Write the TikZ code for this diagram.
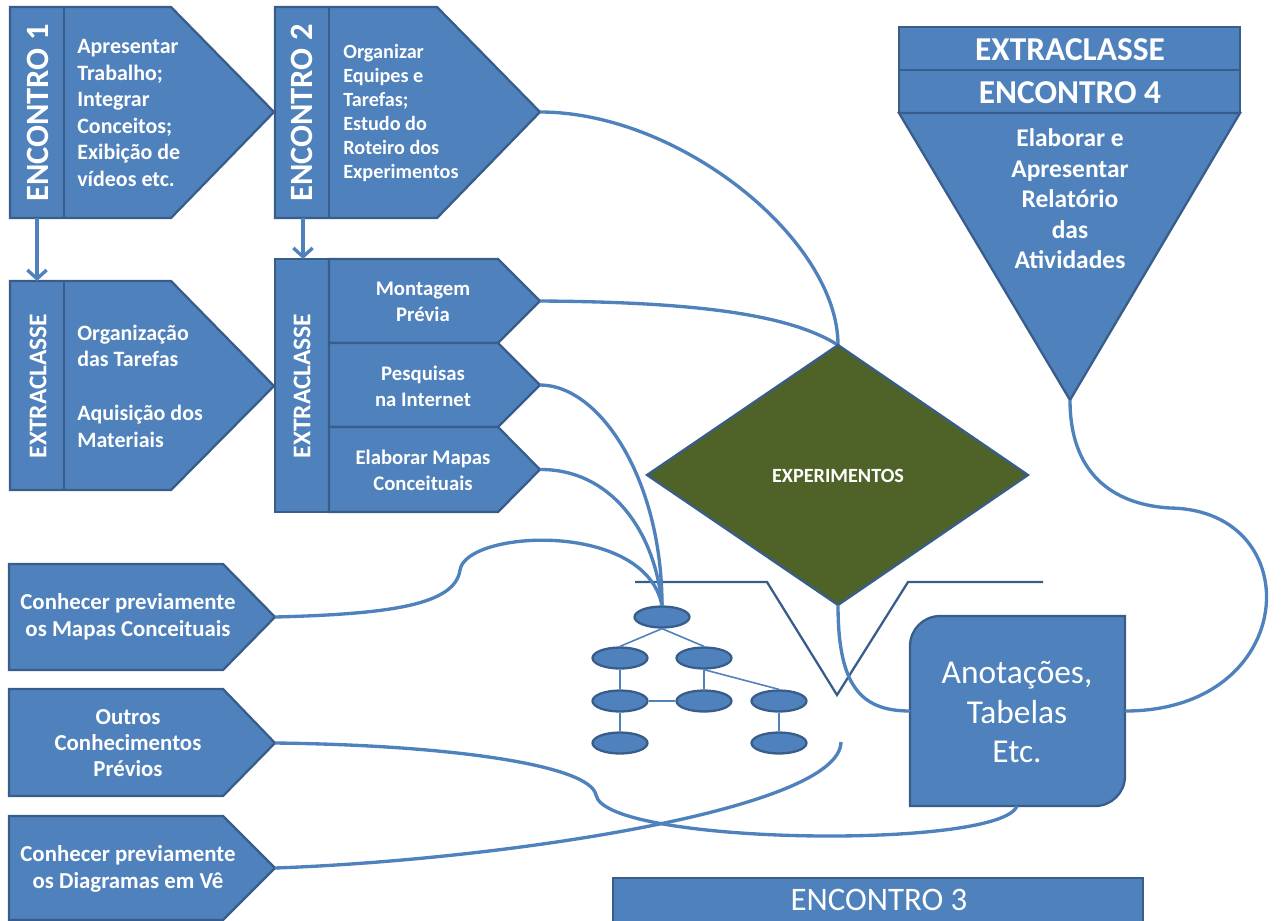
\documentclass[tikz,border=0pt]{standalone}
\usepackage{fontspec}
\setmainfont{Carlito}
\usetikzlibrary{shapes.geometric,arrows.meta}
\definecolor{cF}{HTML}{4F81BD}
\definecolor{cD}{HTML}{385D8A}
\definecolor{cG}{HTML}{4F6228}
\newcommand\fsz[2]{\fontsize{#1}{#2}\selectfont}
\begin{document}
\begin{tikzpicture}[x=0.02cm,y=-0.02cm,
  shp/.style={fill=cF,draw=cD,line width=1.3pt},
  lbl/.style={text=white,inner sep=0pt},
  conn/.style={draw=cF,line width=1.9pt},
  arr/.style={draw=cF,line width=1.9pt,-{Straight Barb[length=5pt,width=11pt]}},
  vline/.style={draw=cD,line width=1.3pt},
  ell/.style={ellipse,fill=cF,draw=cD,line width=1.3pt,minimum width=1.1cm,minimum height=0.42cm,inner sep=0pt},
  mapln/.style={draw=cF,line width=0.9pt}]
\useasboundingbox (0,0) rectangle (1283,920);
\clip (0,0) rectangle (1283,920);

% ---------- connection points
\coordinate (e1bot) at (37,218);
\coordinate (x1top) at (37,281);
\coordinate (e2bot) at (303,218);
\coordinate (x2top) at (303,259);
\coordinate (e2tip) at (540,112);
\coordinate (mtip) at (540,301);
\coordinate (ptip) at (540,385);
\coordinate (etip) at (540,469.5);
\coordinate (dtop) at (838,345);
\coordinate (dbot) at (838,605);
\coordinate (p1tip) at (275,617);
\coordinate (p2tip) at (275,743);
\coordinate (p3tip) at (275,868);
\coordinate (tritip) at (1070,400);
\coordinate (anW) at (910,711);
\coordinate (anE) at (1125,711);
\coordinate (anS) at (1017,806);
\coordinate (vend) at (841,742);

% ---------- ENCONTRO 1
\draw[shp] (10,7) -- (171,7) -- (274,112) -- (171,218) -- (10,218) -- cycle;
\draw[shp] (64,7) -- (64,218);
\node[lbl,rotate=90,font=\bfseries\fsz{18.5}{20}] (e1lab) at (38,113) {ENCONTRO 1};
\node[lbl,anchor=west,align=left,font=\bfseries\fsz{12.5}{15.1}] (e1txt) at (77,113)
  {Apresentar\\Trabalho;\\Integrar\\Conceitos;\\Exibição de\\vídeos etc.};

% ---------- ENCONTRO 2
\draw[shp] (275,7) -- (437,7) -- (540,112) -- (437,218) -- (275,218) -- cycle;
\draw[shp] (329,7) -- (329,218);
\node[lbl,rotate=90,font=\bfseries\fsz{18.5}{20}] (e2lab) at (302,113) {ENCONTRO 2};
\node[lbl,anchor=west,align=left,font=\bfseries\fsz{11.5}{13.6}] (e2txt) at (343,113)
  {Organizar\\Equipes e\\Tarefas;\\Estudo do\\Roteiro dos\\Experimentos};

% ---------- EXTRACLASSE 1
\draw[shp] (10,281) -- (171,281) -- (274,386) -- (171,490) -- (10,490) -- cycle;
\draw[shp] (64,281) -- (64,490);
\node[lbl,rotate=90,font=\bfseries\fsz{14.5}{16}] (x1lab) at (38,386) {EXTRACLASSE};
\node[lbl,anchor=west,align=left,font=\bfseries\fsz{12.5}{15.2}] (x1txt) at (77,386)
  {Organização\\das Tarefas\\[15.2pt]Aquisição dos\\Materiais};

% ---------- EXTRACLASSE 2
\draw[shp] (275,259) -- (329,259) -- (329,512) -- (275,512) -- cycle;
\draw[shp] (329,259) -- (498,259) -- (540,301) -- (498,343) -- (329,343) -- cycle;
\draw[shp] (329,343) -- (498,343) -- (540,385) -- (498,427) -- (329,427) -- cycle;
\draw[shp] (329,427) -- (498,427) -- (540,469.5) -- (498,512) -- (329,512) -- cycle;
\node[lbl,rotate=90,font=\bfseries\fsz{14.5}{16}] (x2lab) at (302,386) {EXTRACLASSE};
\node[lbl,align=center,font=\bfseries\fsz{11.8}{14.7}] (mtxt) at (423,302) {Montagem\\Prévia};
\node[lbl,align=center,font=\bfseries\fsz{11.8}{14.7}] (ptxt) at (423,386) {Pesquisas\\na Internet};
\node[lbl,align=center,font=\bfseries\fsz{11.8}{14.7}] (etxt) at (423,470) {Elaborar Mapas\\Conceituais};

% ---------- arrows down
\draw[arr] (e1bot) -- (x1top);
\draw[arr] (e2bot) -- (x2top);

% ---------- bottom-left pentagons
\draw[shp] (9,564) -- (223,564) -- (275,617) -- (223,670) -- (9,670) -- cycle;
\node[lbl,align=center,font=\bfseries\fsz{13}{15.3}] (p1txt) at (128,617)
  {Conhecer previamente\\os Mapas Conceituais};
\draw[shp] (9,689) -- (223,689) -- (275,743) -- (223,796) -- (9,796) -- cycle;
\node[lbl,align=center,font=\bfseries\fsz{13}{15}] (p2txt) at (128,743)
  {Outros\\Conhecimentos\\Prévios};
\draw[shp] (9,816) -- (223,816) -- (275,868) -- (223,920) -- (9,920) -- cycle;
\node[lbl,align=center,font=\bfseries\fsz{13}{15.3}] (p3txt) at (128,869)
  {Conhecer previamente\\os Diagramas em Vê};

% ---------- EXTRACLASSE / ENCONTRO 4 triangle
\draw[shp] (899,27) -- (1240,27) -- (1240,70) -- (899,70) -- cycle;
\draw[shp] (899,70) -- (1240,70) -- (1240,113) -- (899,113) -- cycle;
\draw[shp] (899,113) -- (1240,113) -- (1070,400) -- cycle;
\node[lbl,font=\bfseries\fsz{19}{22}] (r1txt) at (1070,50) {EXTRACLASSE};
\node[lbl,font=\bfseries\fsz{19}{22}] (r2txt) at (1070,93) {ENCONTRO 4};
\node[lbl,align=center,font=\bfseries\fsz{14.5}{17.4}] (tritxt) at (1070,199)
  {Elaborar e\\Apresentar\\Relatório\\das\\Atividades};

% ---------- connectors (behind diamond)
\draw[conn] (e2tip) .. controls (680,112) and (838,240) .. (dtop);
\draw[conn] (mtip) .. controls (700,302) and (790,315) .. (dtop);

% ---------- diamond
\draw[shp,fill=cG] (838,345) -- (1028,475) -- (838,605) -- (647,475) -- cycle;
\node[lbl,font=\bfseries\fsz{11.5}{13}] (dtxt) at (838,476) {EXPERIMENTOS};

% ---------- V diagram
\draw[vline] (635,582) -- (767,582) -- (837,695) -- (908,582) -- (1043,582);

% ---------- concept map
\node[ell] (a) at (662,617) {};
\node[ell] (b) at (620,658) {};
\node[ell] (c) at (704,658) {};
\node[ell] (d) at (620,701) {};
\node[ell] (e) at (704,701) {};
\node[ell] (f) at (779,701) {};
\node[ell] (g) at (620,743) {};
\node[ell] (h) at (779,743) {};
\draw[mapln] (a.south) -- (b.north);
\draw[mapln] (a.south) -- (c.north);
\draw[mapln] (b.south) -- (d.north);
\draw[mapln] (c.south) -- (e.north);
\draw[mapln] (d.east) -- (e.west);
\draw[mapln] (c.south) -- (f.north);
\draw[mapln] (d.south) -- (g.north);
\draw[mapln] (f.south) -- (h.north);

% ---------- Anotacoes box
\node[minimum width=4.3cm,minimum height=3.8cm,inner sep=0pt] (anot) at (1017.5,711) {};
\draw[shp] (910,806) -- (910,646) .. controls (910,629.4) and (923.4,616) .. (940,616) -- (1125,616)
  -- (1125,776) .. controls (1125,792.6) and (1111.6,806) .. (1095,806) -- cycle;
\node[lbl,align=center,font=\fsz{19}{22.7}] (anottxt) at (1017,712) {Anotações,\\Tabelas\\Etc.};

% ---------- ENCONTRO 3 bar
\draw[shp] (613,878) -- (1143,878) -- (1143,930) -- (613,930) -- cycle;
\node[lbl,font=\fsz{18.7}{22}] (e3txt) at (879,900) {ENCONTRO 3};

% ---------- other connectors
\draw[conn] (ptip) .. controls (600,385) and (662,480) .. (a.north);
\draw[conn] (etip) .. controls (610,469) and (655,530) .. (a.north);
\draw[conn] (p1tip) .. controls (390,614) and (455,605) .. (460,570)
  .. controls (466,530) and (645,520) .. (a.north);
\draw[conn] (dbot) .. controls (838,685) and (860,711) .. (anW);
\draw[conn] (tritip) .. controls (1070,480) and (1120,505) .. (1170,508)
  .. controls (1310,510) and (1300,711) .. (anE);
\draw[conn] (p2tip) .. controls (450,745) and (590,765) .. (596,795)
  .. controls (605,845) and (1000,850) .. (anS);
\draw[conn] (p3tip) .. controls (500,860) and (840,810) .. (vend);
\end{tikzpicture}
\end{document}
